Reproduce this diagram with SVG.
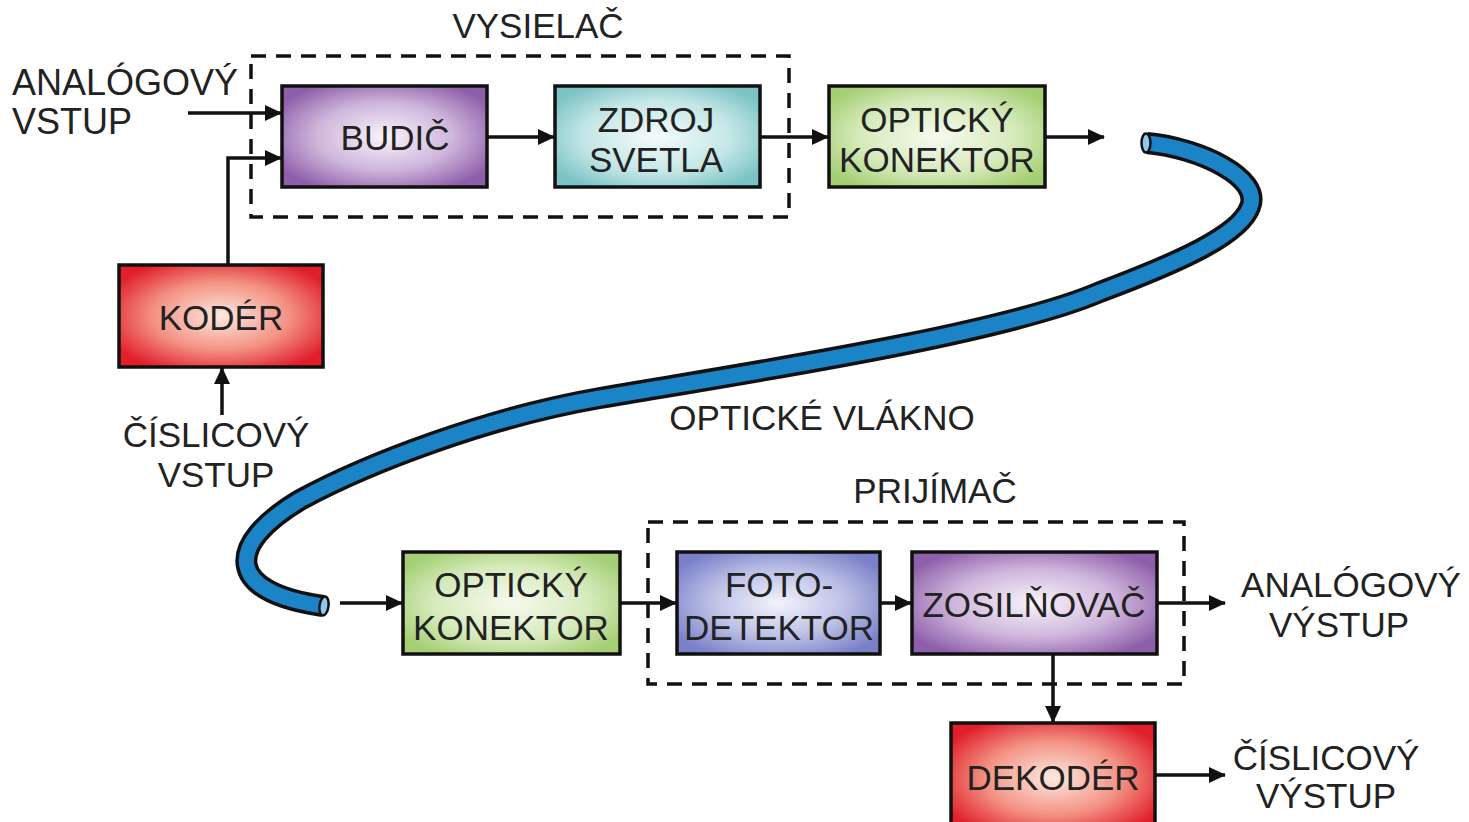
<svg xmlns="http://www.w3.org/2000/svg" width="1469" height="822" viewBox="0 0 1469 822">
<defs>
<style>
.box{stroke:#111;stroke-width:3.5}
.dash{fill:none;stroke:#111;stroke-width:3.5;stroke-dasharray:15 10}
.t{font-family:"Liberation Sans",Arial,sans-serif;font-size:35px;fill:#222;text-anchor:middle}
.tl{font-family:"Liberation Sans",Arial,sans-serif;font-size:36px;fill:#222}
.c{fill:none;stroke:#111;stroke-width:3.5;marker-end:url(#ah)}
</style>
<marker id="ah" markerUnits="userSpaceOnUse" markerWidth="18" markerHeight="16" refX="16" refY="8" orient="auto">
<path d="M0,0 L17,8 L0,16 z" fill="#111"/>
</marker>
<radialGradient id="gPurple" r="0.6"><stop offset="0" stop-color="#f8f4fa"/><stop offset="0.55" stop-color="#cfb6dc"/><stop offset="1" stop-color="#8d5ea9"/></radialGradient>
<radialGradient id="gTeal" r="0.6"><stop offset="0" stop-color="#f4fbfb"/><stop offset="0.6" stop-color="#c3e6e6"/><stop offset="1" stop-color="#7cc3c5"/></radialGradient>
<radialGradient id="gGreen" r="0.6"><stop offset="0" stop-color="#f6faee"/><stop offset="0.6" stop-color="#d6eabc"/><stop offset="1" stop-color="#a5cf74"/></radialGradient>
<radialGradient id="gRed" r="0.6"><stop offset="0" stop-color="#fde9e1"/><stop offset="0.55" stop-color="#f39384"/><stop offset="1" stop-color="#e01f2b"/></radialGradient>
<radialGradient id="gBlue" r="0.6"><stop offset="0" stop-color="#f2f3fb"/><stop offset="0.55" stop-color="#bcc0e6"/><stop offset="1" stop-color="#7a80c8"/></radialGradient>
<path id="fiberPath" d="M1147,143 C1200,148 1262,178 1250,207 C1240,235 1180,262 1100,292 C1000,335 740,374 600,398 C490,417 370,462 300,500 C225,545 225,592 323,606" fill="none"/>
</defs>
<rect width="1469" height="822" fill="#ffffff"/>

<g id="vysielac">
<rect class="dash" x="251" y="56" width="538" height="161"/>
<text class="t" x="538" y="38">VYSIELAČ</text>
</g>
<g id="prijimac">
<rect class="dash" x="648" y="522" width="536" height="162"/>
<text class="t" x="935" y="503">PRIJÍMAČ</text>
</g>

<g id="fiber">
<use href="#fiberPath" stroke="#111" stroke-width="22"/>
<use href="#fiberPath" stroke="#1b84c6" stroke-width="15"/>
<ellipse cx="1146" cy="143" rx="4.5" ry="9.5" fill="#8fc8ea" stroke="#111" stroke-width="2.5"/>
<ellipse cx="324" cy="606" rx="4.5" ry="9.5" fill="#8fc8ea" stroke="#111" stroke-width="2.5" transform="rotate(8 324 606)"/>
<text class="t" x="822" y="430">OPTICKÉ VLÁKNO</text>
</g>

<g id="analog-in">
<text class="tl" x="12" y="95">ANALÓGOVÝ</text>
<text class="tl" x="12" y="134">VSTUP</text>
</g>
<g id="budic">
<rect class="box" x="282" y="86" width="205" height="101" fill="url(#gPurple)"/>
<text class="t" x="395" y="150">BUDIČ</text>
</g>
<g id="zdroj">
<rect class="box" x="555" y="86" width="205" height="101" fill="url(#gTeal)"/>
<text class="t" x="656" y="132">ZDROJ</text>
<text class="t" x="656" y="172">SVETLA</text>
</g>
<g id="opt1">
<rect class="box" x="829" y="86" width="216" height="101" fill="url(#gGreen)"/>
<text class="t" x="937" y="132">OPTICKÝ</text>
<text class="t" x="937" y="172">KONEKTOR</text>
</g>
<g id="koder">
<rect class="box" x="119" y="265" width="204" height="102" fill="url(#gRed)"/>
<text class="t" x="221" y="330">KODÉR</text>
</g>
<g id="digital-in">
<text class="t" x="216" y="447">ČÍSLICOVÝ</text>
<text class="t" x="216" y="487">VSTUP</text>
</g>
<g id="opt2">
<rect class="box" x="403" y="552" width="217" height="102" fill="url(#gGreen)"/>
<text class="t" x="511" y="597">OPTICKÝ</text>
<text class="t" x="511" y="640">KONEKTOR</text>
</g>
<g id="foto">
<rect class="box" x="677" y="552" width="203" height="102" fill="url(#gBlue)"/>
<text class="t" x="779" y="597">FOTO-</text>
<text class="t" x="779" y="640">DETEKTOR</text>
</g>
<g id="zosil">
<rect class="box" x="912" y="552" width="245" height="102" fill="url(#gPurple)"/>
<text class="t" x="1034" y="617">ZOSILŇOVAČ</text>
</g>
<g id="analog-out">
<text class="t" x="1351" y="597">ANALÓGOVÝ</text>
<text class="t" x="1339" y="637">VÝSTUP</text>
</g>
<g id="dekoder">
<rect class="box" x="951" y="723" width="204" height="110" fill="url(#gRed)"/>
<text class="t" x="1053" y="790">DEKODÉR</text>
</g>
<g id="digital-out">
<text class="t" x="1326" y="770">ČÍSLICOVÝ</text>
<text class="t" x="1326" y="808">VÝSTUP</text>
</g>

<g id="connectors">
<path class="c" d="M188,113 H281"/>
<path class="c" d="M228,265 V158 H281"/>
<path class="c" d="M222,415 V368"/>
<path class="c" d="M487,137 H554"/>
<path class="c" d="M760,137 H828"/>
<path class="c" d="M1045,137 H1104"/>
<path class="c" d="M340,603 H402"/>
<path class="c" d="M620,603 H676"/>
<path class="c" d="M880,603 H911"/>
<path class="c" d="M1157,603 H1225"/>
<path class="c" d="M1053,654 V722"/>
<path class="c" d="M1155,775 H1225"/>
</g>
</svg>
